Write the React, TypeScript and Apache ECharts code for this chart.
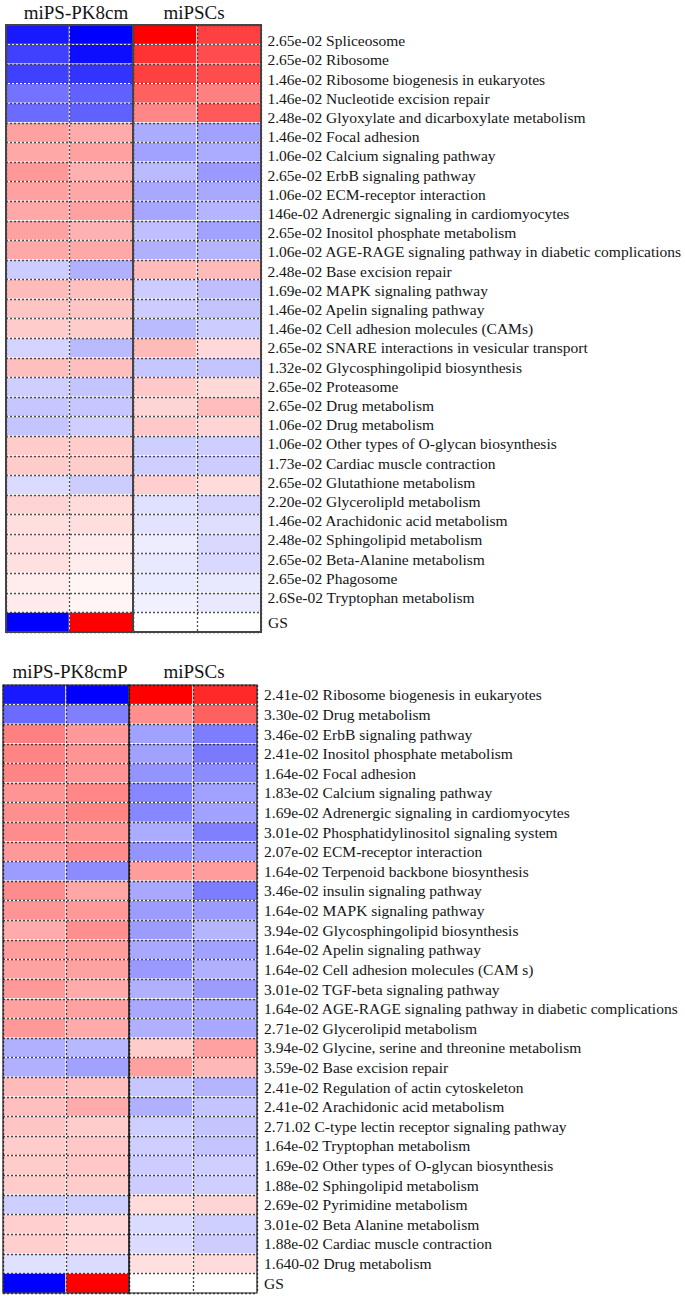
import React, { useEffect, useRef } from "react";
import * as echarts from "echarts";

// ---------- Top heatmap (miPS-PK8cm vs miPSCs) ----------
const topHeaders = ["miPS-PK8cm", "miPSCs"];
const topLabels = [
  "2.65e-02 Spliceosome",
  "2.65e-02 Ribosome",
  "1.46e-02 Ribosome biogenesis in eukaryotes",
  "1.46e-02 Nucleotide excision repair",
  "2.48e-02 Glyoxylate and dicarboxylate metabolism",
  "1.46e-02 Focal adhesion",
  "1.06e-02 Calcium signaling pathway",
  "2.65e-02 ErbB signaling pathway",
  "1.06e-02 ECM-receptor interaction",
  "146e-02 Adrenergic signaling in cardiomyocytes",
  "2.65e-02 Inositol phosphate metabolism",
  "1.06e-02 AGE-RAGE signaling pathway in diabetic complications",
  "2.48e-02 Base excision repair",
  "1.69e-02 MAPK signaling pathway",
  "1.46e-02 Apelin signaling pathway",
  "1.46e-02 Cell adhesion molecules (CAMs)",
  "2.65e-02 SNARE interactions in vesicular transport",
  "1.32e-02 Glycosphingolipid biosynthesis",
  "2.65e-02 Proteasome",
  "2.65e-02 Drug metabolism",
  "1.06e-02 Drug metabolism",
  "1.06e-02 Other types of O-glycan biosynthesis",
  "1.73e-02 Cardiac muscle contraction",
  "2.65e-02 Glutathione metabolism",
  "2.20e-02 Glycerolipld metabolism",
  "1.46e-02 Arachidonic acid metabolism",
  "2.48e-02 Sphingolipid metabolism",
  "2.65e-02 Beta-Alanine metabolism",
  "2.65e-02 Phagosome",
  "2.6Se-02 Tryptophan metabolism",
];
const topPK1 = [-0.9, -0.75, -0.75, -0.55, -0.58, 0.37, 0.34, 0.4, 0.37, 0.34, 0.37, 0.34, -0.2, 0.27, 0.23, 0.2, -0.17, 0.25, -0.19, -0.22, -0.23, 0.2, 0.2, -0.14, 0.17, 0.13, 0.12, 0.12, 0.07, 0.08];
const topPK2 = [-1.0, -0.95, -0.8, -0.62, -0.62, 0.33, 0.37, 0.31, 0.35, 0.37, 0.31, 0.34, -0.31, 0.25, 0.23, 0.2, -0.27, 0.25, -0.23, -0.22, -0.19, 0.2, 0.2, -0.2, 0.14, 0.13, 0.08, 0.07, 0.04, 0.04];
const topPSC1 = [1.0, 0.8, 0.75, 0.62, 0.47, -0.33, -0.37, -0.27, -0.34, -0.35, -0.25, -0.31, 0.27, -0.2, -0.2, -0.27, 0.27, -0.22, 0.21, 0.17, 0.21, -0.19, -0.19, 0.19, -0.12, -0.11, -0.07, -0.09, -0.08, -0.06];
const topPSC2 = [0.75, 0.7, 0.7, 0.5, 0.65, -0.37, -0.33, -0.4, -0.34, -0.29, -0.37, -0.29, 0.27, -0.25, -0.23, -0.2, 0.15, -0.23, 0.15, 0.26, 0.17, -0.19, -0.2, 0.14, -0.17, -0.13, -0.15, -0.15, -0.09, -0.09];

// ---------- Bottom heatmap (miPS-PK8cmP vs miPSCs) ----------
const bottomHeaders = ["miPS-PK8cmP", "miPSCs"];
const bottomLabels = [
  "2.41e-02 Ribosome biogenesis in eukaryotes",
  "3.30e-02 Drug metabolism",
  "3.46e-02 ErbB signaling pathway",
  "2.41e-02 Inositol phosphate metabolism",
  "1.64e-02 Focal adhesion",
  "1.83e-02 Calcium signaling pathway",
  "1.69e-02 Adrenergic signaling in cardiomyocytes",
  "3.01e-02 Phosphatidylinositol signaling system",
  "2.07e-02 ECM-receptor interaction",
  "1.64e-02 Terpenoid backbone biosynthesis",
  "3.46e-02 insulin signaling pathway",
  "1.64e-02 MAPK signaling pathway",
  "3.94e-02 Glycosphingolipid biosynthesis",
  "1.64e-02 Apelin signaling pathway",
  "1.64e-02 Cell adhesion molecules (CAM s)",
  "3.01e-02 TGF-beta signaling pathway",
  "1.64e-02 AGE-RAGE signaling pathway in diabetic complications",
  "2.71e-02 Glycerolipid metabolism",
  "3.94e-02 Glycine, serine and threonine metabolism",
  "3.59e-02 Base excision repair",
  "2.41e-02 Regulation of actin cytoskeleton",
  "2.41e-02 Arachidonic acid metabolism",
  "2.71.02 C-type lectin receptor signaling pathway",
  "1.64e-02 Tryptophan metabolism",
  "1.69e-02 Other types of O-glycan biosynthesis",
  "1.88e-02 Sphingolipid metabolism",
  "2.69e-02 Pyrimidine metabolism",
  "3.01e-02 Beta Alanine metabolism",
  "1.88e-02 Cardiac muscle contraction",
  "1.640-02 Drug metabolism",
];
const bottomPK1 = [-0.9, -0.58, 0.5, 0.48, 0.48, 0.42, 0.44, 0.45, 0.4, -0.39, 0.45, 0.42, 0.33, 0.39, 0.37, 0.4, 0.37, 0.4, -0.31, -0.31, 0.27, 0.25, 0.23, 0.2, 0.2, 0.2, -0.19, 0.19, 0.19, -0.12];
const bottomPK2 = [-1.0, -0.5, 0.4, 0.42, 0.42, 0.47, 0.48, 0.42, 0.45, -0.45, 0.35, 0.4, 0.44, 0.39, 0.37, 0.33, 0.37, 0.33, -0.28, -0.37, 0.25, 0.33, 0.2, 0.22, 0.22, 0.2, -0.19, 0.15, 0.15, -0.14];
const bottomPSC1 = [1.0, 0.44, -0.37, -0.37, -0.42, -0.47, -0.47, -0.33, -0.42, 0.39, -0.34, -0.39, -0.39, -0.34, -0.4, -0.31, -0.34, -0.31, 0.2, 0.37, -0.22, -0.31, -0.19, -0.19, -0.2, -0.2, 0.14, -0.14, -0.14, 0.12];
const bottomPSC2 = [0.84, 0.62, -0.51, -0.52, -0.45, -0.37, -0.37, -0.5, -0.39, 0.39, -0.51, -0.39, -0.29, -0.37, -0.31, -0.39, -0.34, -0.34, 0.37, 0.28, -0.29, -0.23, -0.23, -0.23, -0.19, -0.19, 0.17, -0.19, -0.2, 0.14];

// GS reference row: [group1 col1, group1 col2, group2 col1, group2 col2]
const gsLabel = "GS";
const gsValues = [-1, 1, 0, 0];

const FONT = "'Liberation Serif', 'Times New Roman', serif";
const TEXT = "#151515";
const LABEL_SIZE = 15.5;

function cells(a: number[], b: number[], gs0: number, gs1: number) {
  const out: number[][] = [];
  a.forEach((v, i) => out.push([0, i, v]));
  b.forEach((v, i) => out.push([1, i, v]));
  out.push([0, a.length, gs0]);
  out.push([1, a.length, gs1]);
  return out;
}

export default function App() {
  const ref = useRef<HTMLDivElement>(null);
  useEffect(() => {
    if (!ref.current) return;
    const chart = echarts.init(ref.current, null, { renderer: "svg" });

    const dotted = (color: string) => ({
      show: true,
      interval: 0,
      lineStyle: { color, width: 1.3, type: [2, 2] as any },
    });

    const topRows = [...topLabels, gsLabel];
    const bottomRows = [...bottomLabels, gsLabel];

    const grids = [
      // top heatmap
      { left: 6, width: 127, top: 25, height: 607, show: true, z: 10, backgroundColor: "transparent", borderColor: "#444", borderWidth: 2 },
      { left: 133, width: 128, top: 25, height: 607, show: true, z: 10, backgroundColor: "transparent", borderColor: "#444", borderWidth: 2 },
      // top labels
      { left: 255, width: 6, top: 31, height: 576 },
      // bottom heatmap
      { left: 3, width: 126, top: 685, height: 608, show: true, z: 10, backgroundColor: "transparent", borderColor: "#1a1a1a", borderWidth: 1.2 },
      { left: 129, width: 128, top: 685, height: 608, show: true, z: 10, backgroundColor: "transparent", borderColor: "#1a1a1a", borderWidth: 1.2 },
    ];

    const heatX = (gridIndex: number, name: string, gap: number, padLeft: number, lineColor: string) => ({
      type: "category",
      gridIndex,
      data: ["1", "2"],
      position: "top",
      z: 5,
      axisLine: { show: false },
      axisTick: { show: false },
      axisLabel: { show: false },
      splitLine: dotted(lineColor),
      name,
      nameLocation: "middle",
      nameGap: gap,
      nameTextStyle: {
        fontFamily: FONT,
        fontSize: 19,
        color: TEXT,
        verticalAlign: "bottom",
        padding: [0, 0, 0, padLeft],
      },
    });

    const heatY = (gridIndex: number, rows: string[], showLabel: (v: string) => boolean, lineColor: string) => ({
      type: "category",
      gridIndex,
      data: rows,
      inverse: true,
      position: "right",
      z: 5,
      axisLine: { show: false },
      axisTick: { show: false },
      axisLabel: {
        show: true,
        interval: 0,
        margin: 7,
        fontFamily: FONT,
        fontSize: LABEL_SIZE,
        color: TEXT,
        formatter: (v: string) => (showLabel(v) ? v : ""),
      },
      splitLine: dotted(lineColor),
    });

    const xAxis = [
      heatX(0, topHeaders[0], 3, 13, "rgba(50,50,50,0.85)"),
      heatX(1, topHeaders[1], 3, -6, "rgba(50,50,50,0.85)"),
      { type: "category", gridIndex: 2, data: ["x"], show: false },
      heatX(3, bottomHeaders[0], 4, 8, "rgba(40,40,40,0.85)"),
      heatX(4, bottomHeaders[1], 4, 2, "rgba(40,40,40,0.85)"),
    ];
    const yAxis = [
      heatY(0, topRows, () => false, "rgba(50,50,50,0.85)"),
      heatY(1, topRows, (v) => v === gsLabel, "rgba(50,50,50,0.85)"),
      {
        type: "category",
        gridIndex: 2,
        data: topLabels,
        inverse: true,
        position: "right",
        axisLine: { show: false },
        axisTick: { show: false },
        splitLine: { show: false },
        axisLabel: { show: true, interval: 0, margin: 7, fontFamily: FONT, fontSize: LABEL_SIZE, color: TEXT },
      },
      heatY(3, bottomRows, () => false, "rgba(40,40,40,0.85)"),
      heatY(4, bottomRows, () => true, "rgba(40,40,40,0.85)"),
    ];

    const heatSeries = (xi: number, data: number[][]) => ({
      type: "heatmap",
      xAxisIndex: xi,
      yAxisIndex: xi,
      data,
      z: 2,
      itemStyle: { borderColor: "#ffffff", borderWidth: 1 },
      emphasis: { disabled: true },
    });

    const option = {
      animation: false,
      backgroundColor: "#ffffff",
      visualMap: {
        show: false,
        type: "continuous",
        min: -1,
        max: 1,
        seriesIndex: [0, 1, 2, 3],
        inRange: { color: ["#0000ff", "#ffffff", "#ff0000"] },
      },
      grid: grids,
      xAxis,
      yAxis,
      series: [
        heatSeries(0, cells(topPK1, topPK2, gsValues[0], gsValues[1])),
        heatSeries(1, cells(topPSC1, topPSC2, gsValues[2], gsValues[3])),
        heatSeries(3, cells(bottomPK1, bottomPK2, gsValues[0], gsValues[1])),
        heatSeries(4, cells(bottomPSC1, bottomPSC2, gsValues[2], gsValues[3])),
      ],
    };
    chart.setOption(option as any);
    return () => chart.dispose();
  }, []);

  return (
    <div
      ref={ref}
      style={{ position: "absolute", left: 0, top: 0, width: 685, height: 1296, background: "#fff" }}
    />
  );
}
